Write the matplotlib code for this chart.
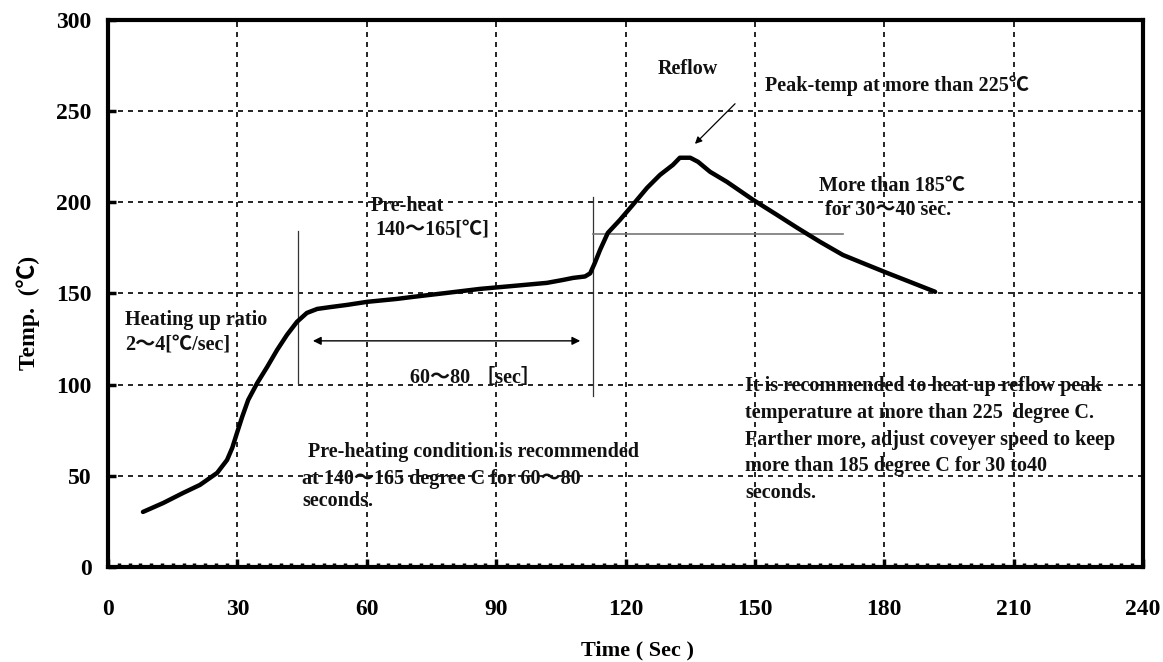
import matplotlib
matplotlib.use('Agg')
import matplotlib.pyplot as plt
from matplotlib.ticker import MultipleLocator

# profile (sec, degC)
time_s = [8.1, 12.8, 17.4, 21.3, 25.3, 27.6, 28.8, 29.9, 31.1, 32.5, 34.6, 36.9,
          39.2, 41.5, 43.8, 46.1, 48.5, 51.5, 55.4, 60.1, 67.0, 70.7, 78.6, 86.3,
          93.9, 101.8, 105.5, 107.8, 110.6, 111.8, 112.9, 114.1, 115.9, 118.7,
          121.7, 125.0, 128.0, 131.0, 132.6, 135.0, 136.8, 139.6, 143.5, 149.6,
          155.1, 159.8, 165.1, 170.4, 176.0, 180.6, 186.0, 191.8]
temp_c = [30.2, 35.1, 40.6, 45.0, 51.6, 58.7, 65.3, 73.5, 82.3, 91.6, 100.9, 109.7,
          119.0, 127.3, 134.4, 139.3, 141.5, 142.5, 143.7, 145.4, 147.0, 148.1, 150.3, 152.5,
          154.1, 155.8, 157.4, 158.5, 159.3, 161.0, 166.8, 173.9, 183.2, 190.3,
          198.6, 207.9, 215.0, 220.5, 224.4, 224.4, 222.2, 216.7, 211.2, 201.3,
          193.1, 186.0, 178.3, 171.1, 165.7, 161.3, 156.3, 150.9]

xticks = [0, 30, 60, 90, 120, 150, 180, 210, 240]
yticks = [0, 50, 100, 150, 200, 250, 300]

preheat_start = 44.1
preheat_end = 112.5
reflow_level = 182.5

fam = ['Liberation Serif', 'Noto Sans CJK JP', 'DejaVu Serif']
plt.rcParams['font.family'] = fam
plt.rcParams['font.weight'] = 'bold'

fig = plt.figure(figsize=(11.63, 6.62), dpi=100)
ax = fig.add_axes([0.0929, 0.1435, 0.8899, 0.8265])

ax.set_xlim(0, 240)
ax.set_ylim(0, 300)
ax.set_xticks(xticks)
ax.set_yticks(yticks)
ax.xaxis.set_minor_locator(MultipleLocator(2.5))
ax.tick_params(axis='both', which='major', direction='in', length=6, width=2.5,
               labelsize=17)
ax.tick_params(axis='x', which='major', pad=23)
ax.tick_params(axis='y', which='major', pad=12)
ax.tick_params(axis='x', which='minor', direction='in', length=3, width=2.5)
for lab in ax.get_xticklabels() + ax.get_yticklabels():
    lab.set_fontweight('bold')

for s in ax.spines.values():
    s.set_linewidth(3)

ax.grid(True, which='major', color='black', linestyle=(0, (3, 3)), linewidth=1.2)

ax.plot(time_s, temp_c, color='black', linewidth=3.2, solid_capstyle='round',
        solid_joinstyle='round', zorder=5)

# marker lines
ax.plot([preheat_start, preheat_start], [101, 184], color='#333333', linewidth=0.9)
ax.plot([preheat_end, preheat_end], [94, 203], color='#333333', linewidth=0.9)
ax.plot([preheat_end, 170.4], [reflow_level, reflow_level], color='#777777', linewidth=1.2)
ax.annotate('', xy=(47.5, 124), xytext=(109.5, 124),
            arrowprops=dict(arrowstyle='<|-|>', color='black', lw=1.0,
                            mutation_scale=12, shrinkA=0, shrinkB=0))
ax.annotate('', xy=(136.1, 232), xytext=(145.4, 254),
            arrowprops=dict(arrowstyle='-|>', color='black', lw=0.9,
                            mutation_scale=10, shrinkA=0, shrinkB=0))

fs = 14.5
tk = dict(fontsize=fs, fontweight='bold', color='#111111', va='center', ha='left')
ax.text(127.5, 273, 'Reflow', **tk)
ax.text(152.3, 264, 'Peak-temp at more than 225℃', **tk)
ax.text(164.8, 209, 'More than 185℃', **tk)
ax.text(166.3, 195.5, 'for 30～40 sec.', **tk)
ax.text(60.8, 198, 'Pre-heat', **tk)
ax.text(62.0, 185, '140～165[℃]', **tk)
ax.text(3.9, 135.5, 'Heating up ratio', **tk)
ax.text(3.9, 122, '2～4[℃/sec]', **tk)
ax.text(70.0, 103.5, '60～80 ［sec］', **tk)
ax.text(46.4, 63, 'Pre-heating condition is recommended', **tk)
ax.text(45.0, 48.5, 'at 140～165 degree C for 60～80', **tk)
ax.text(45.0, 36, 'seconds.', **tk)
right_lines = ['It is recommended to heat up reflow peak',
               'temperature at more than 225  degree C.',
               'Farther more, adjust coveyer speed to keep',
               'more than 185 degree C for 30 to40',
               'seconds.']
for i, line in enumerate(right_lines):
    ax.text(147.7, 99 - i * 14.6, line, **tk)

ax.set_xlabel('Time ( Sec )', fontsize=16, fontweight='bold')
ax.xaxis.set_label_coords(0.512, -0.134)
ax.set_ylabel('Temp.  (℃)', fontsize=17, fontweight='bold')
ax.yaxis.set_label_coords(-0.066, 0.464)

fig.savefig('out.png', dpi=100)
